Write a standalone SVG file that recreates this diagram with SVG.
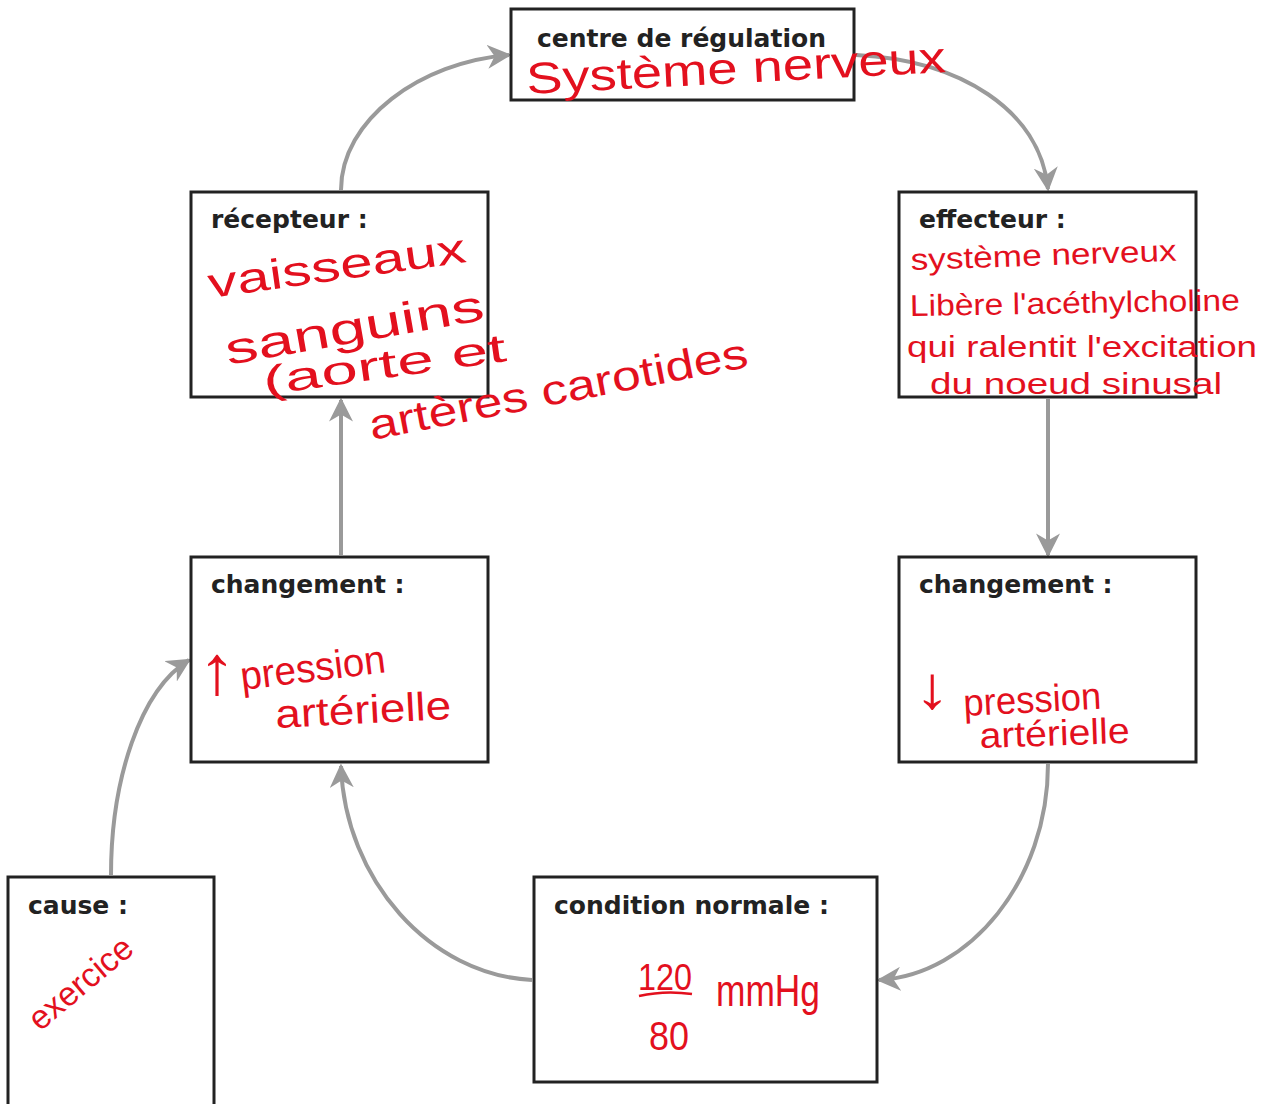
<svg xmlns="http://www.w3.org/2000/svg" width="1274" height="1104" viewBox="0 0 1274 1104">
<defs>
<style>
.box{fill:#fff;stroke:#222;stroke-width:3}
.lbl{font-family:"DejaVu Sans",Verdana,sans-serif;font-weight:bold;font-size:25px;fill:#222}
.hw{font-family:"Liberation Sans","DejaVu Sans",sans-serif;fill:#e3101e;font-weight:normal}
.con{fill:none;stroke:#9a9a9a;stroke-width:4;marker-end:url(#ah)}
</style>
<marker id="ah" viewBox="0 0 10 10" refX="9" refY="5" markerWidth="6" markerHeight="6" orient="auto" markerUnits="strokeWidth">
<path d="M0,0 L10,5 L0,10 L3,5 Z" fill="#9a9a9a"/>
</marker>
</defs>
<rect width="1274" height="1104" fill="#fff"/>
<g id="connectors">
<path class="con" d="M341,190 C341,120 420,62 509,55"/>
<path class="con" d="M856,55 C960,60 1040,110 1048,189"/>
<path class="con" d="M1048,399 L1048,555"/>
<path class="con" d="M1048,764 C1048,880 970,975 879,980"/>
<path class="con" d="M532,980 C430,975 345,880 341,766"/>
<path class="con" d="M341,555 L341,400"/>
<path class="con" d="M111,875 C111,780 140,690 189,660"/>
</g>
<g id="centre">
<rect class="box" x="511" y="9" width="343" height="91"/>
<text class="lbl" x="537" y="47">centre de régulation</text>
<text class="hw" x="527" y="94" font-size="44" textLength="420" lengthAdjust="spacingAndGlyphs" transform="rotate(-3 527 94)">Système nerveux</text>
</g>
<g id="recepteur">
<rect class="box" x="191" y="192" width="297" height="205"/>
<text class="lbl" x="211" y="228">récepteur :</text>
<text class="hw" x="210" y="298" font-size="42" textLength="260" lengthAdjust="spacingAndGlyphs" transform="rotate(-8 210 298)">vaisseaux</text>
<text class="hw" x="228" y="365" font-size="44" textLength="262" lengthAdjust="spacingAndGlyphs" transform="rotate(-10 228 365)">sanguins</text>
<text class="hw" x="265" y="395" font-size="40" textLength="245" lengthAdjust="spacingAndGlyphs" transform="rotate(-8 265 395)">(aorte et</text>
<text class="hw" x="372" y="440" font-size="42" textLength="385" lengthAdjust="spacingAndGlyphs" transform="rotate(-11 372 440)">artères carotides</text>
</g>
<g id="effecteur">
<rect class="box" x="899" y="192" width="297" height="205"/>
<text class="lbl" x="919" y="228">effecteur :</text>
<text class="hw" x="911" y="270" font-size="30" textLength="266" lengthAdjust="spacingAndGlyphs" transform="rotate(-2 911 270)">système nerveux</text>
<text class="hw" x="910" y="316" font-size="30" textLength="330" lengthAdjust="spacingAndGlyphs" transform="rotate(-1 910 316)">Libère l'acéthylcholine</text>
<text class="hw" x="907" y="357" font-size="29" textLength="350" lengthAdjust="spacingAndGlyphs">qui ralentit l'excitation</text>
<text class="hw" x="930" y="394" font-size="29" textLength="292" lengthAdjust="spacingAndGlyphs">du  noeud sinusal</text>
</g>
<g id="changement-gauche">
<rect class="box" x="191" y="557" width="297" height="205"/>
<text class="lbl" x="211" y="593">changement :</text>
<text class="hw" x="198" y="694" font-size="70" textLength="38" lengthAdjust="spacingAndGlyphs">↑</text>
<text class="hw" x="242" y="690" font-size="40" textLength="146" lengthAdjust="spacingAndGlyphs" transform="rotate(-7 242 690)">pression</text>
<text class="hw" x="276" y="728" font-size="40" textLength="176" lengthAdjust="spacingAndGlyphs" transform="rotate(-3 276 728)">artérielle</text>
</g>
<g id="changement-droite">
<rect class="box" x="899" y="557" width="297" height="205"/>
<text class="lbl" x="919" y="593">changement :</text>
<text class="hw" x="914" y="708" font-size="60" textLength="36" lengthAdjust="spacingAndGlyphs">↓</text>
<text class="hw" x="964" y="716" font-size="38" textLength="138" lengthAdjust="spacingAndGlyphs" transform="rotate(-3 964 716)">pression</text>
<text class="hw" x="980" y="748" font-size="36" textLength="150" lengthAdjust="spacingAndGlyphs" transform="rotate(-2 980 748)">artérielle</text>
</g>
<g id="cause">
<rect class="box" x="8" y="877" width="206" height="240"/>
<text class="lbl" x="28" y="914">cause :</text>
<text class="hw" x="40" y="1032" font-size="34" textLength="125" lengthAdjust="spacingAndGlyphs" transform="rotate(-40 40 1032)">exercice</text>
</g>
<g id="condition-normale">
<rect class="box" x="534" y="877" width="343" height="205"/>
<text class="lbl" x="554" y="914">condition normale :</text>
<text class="hw" x="638" y="990" font-size="36" textLength="54" lengthAdjust="spacingAndGlyphs">120</text>
<path d="M639,996 Q665,990 692,994" fill="none" stroke="#e3101e" stroke-width="2.5"/>
<text class="hw" x="649" y="1050" font-size="40" textLength="40" lengthAdjust="spacingAndGlyphs">80</text>
<text class="hw" x="716" y="1006" font-size="44" textLength="104" lengthAdjust="spacingAndGlyphs">mmHg</text>
</g>
</svg>
